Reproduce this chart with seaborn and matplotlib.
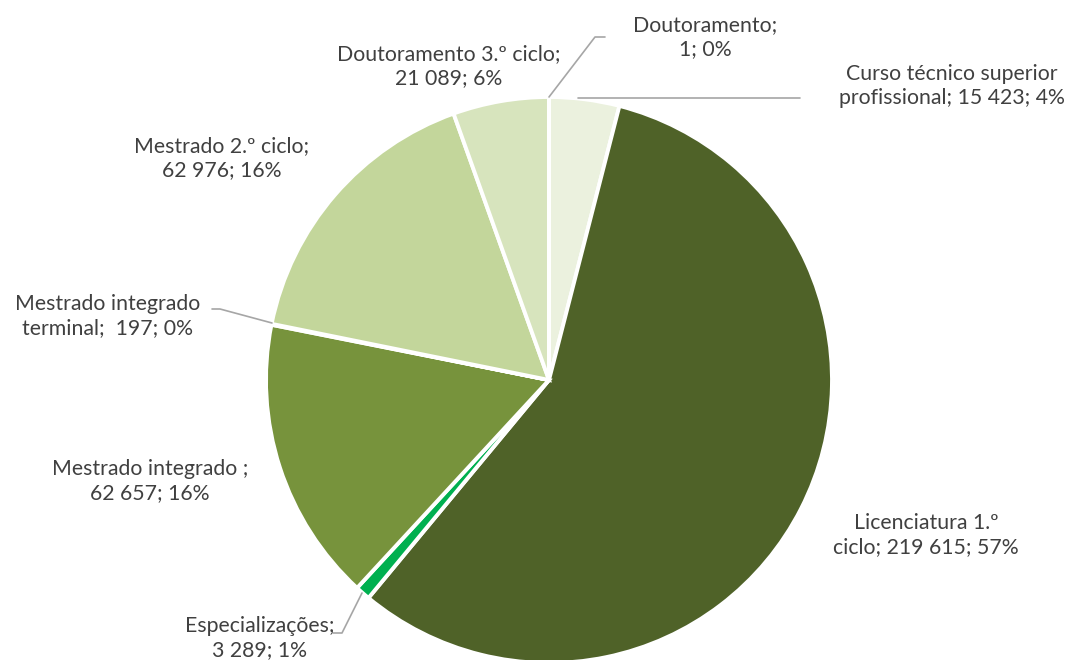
import matplotlib
matplotlib.use("Agg")
import matplotlib.pyplot as plt
import seaborn as sns

sns.set_theme(style="white")
plt.rcParams['font.family'] = ['Lato', 'DejaVu Sans']

# Dados (sentido horário a partir das 12h)
categorias = ["Curso técnico superior profissional", "Licenciatura 1.º ciclo",
              "Especializações", "Mestrado integrado",
              "Mestrado integrado terminal", "Mestrado 2.º ciclo",
              "Doutoramento 3.º ciclo", "Doutoramento"]
valores = [15423, 219615, 3289, 62657, 197, 62976, 21089, 1]
rotulos = ["Curso técnico superior\nprofissional; 15 423; 4%",
           "Licenciatura 1.º\nciclo; 219 615; 57%",
           "Especializações;\n3 289; 1%",
           "Mestrado integrado ;\n62 657; 16%",
           "Mestrado integrado\nterminal;  197; 0%",
           "Mestrado 2.º ciclo;\n62 976; 16%",
           "Doutoramento 3.º ciclo;\n21 089; 6%",
           "Doutoramento;\n1; 0%"]
cores = ["#EBF1DE", "#4F6228", "#00B050", "#77933C",
         "#9BBB59", "#C3D69B", "#D7E4BD", "#EBF1DE"]

W, H = 1077, 660
cx, cy, r = 549, 380, 283

# posição dos rótulos em pixels (centro do bloco de texto)
pos_rotulos = [(952, 86), (926, 535), (260, 638), (150, 481),
               (108, 316), (222, 158), (449, 66), (705, 37)]
# linhas de chamada (pixels)
linhas = {0: [(578, 98), (800, 98)],
          2: [(362, 593), (342, 633), (333, 633)],
          4: [(272, 323), (220, 309), (212, 309)],
          7: [(549, 97), (595, 37), (605, 37)]}


def to_data(px, py):
    return (px - cx) / r, (cy - py) / r


fig = plt.figure(figsize=(W / 100, H / 100), dpi=100)
ax = fig.add_axes([(cx - r) / W, (H - cy - r) / H, 2 * r / W, 2 * r / H])

ax.pie(valores, colors=cores, startangle=90, counterclock=False,
       wedgeprops=dict(edgecolor="white", linewidth=2.8))
ax.set_xlim(-1, 1)
ax.set_ylim(-1, 1)
ax.set_aspect("equal")
ax.axis("off")

for i, (px, py) in enumerate(pos_rotulos):
    x, y = to_data(px, py)
    ax.text(x, y, rotulos[i], ha="center", va="center", fontsize=15.3,
            color="#404040", linespacing=1.3, clip_on=False)

for i, pts in linhas.items():
    xs, ys = zip(*[to_data(*p) for p in pts])
    ax.plot(xs, ys, color="#A6A6A6", linewidth=1.2, clip_on=False)

fig.savefig("out.png", dpi=100)
